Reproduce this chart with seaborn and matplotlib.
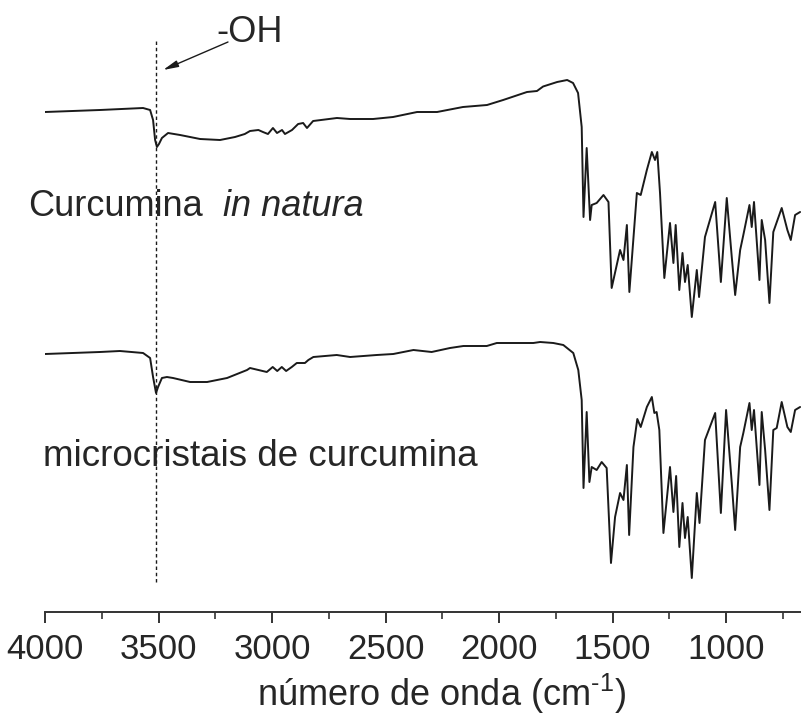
import numpy as np
import pandas as pd
import matplotlib
matplotlib.use("Agg")
import matplotlib.pyplot as plt
from matplotlib.ticker import MultipleLocator
import seaborn as sns

# Espectros FTIR (número de onda em cm-1, transmitância em u.a.)
wn_natura = [4000, 3758, 3568, 3537, 3524, 3515, 3507, 3498, 3485, 3458, 3405, 3317,
             3229, 3163, 3120, 3097, 3060, 3040, 3018, 2996, 2978, 2956, 2943, 2912,
             2885, 2863, 2846, 2819, 2714, 2656, 2555, 2467, 2361, 2273, 2159, 2053,
             1982, 1877, 1833, 1806, 1744, 1700, 1674, 1652, 1636, 1628, 1614, 1599,
             1592, 1570, 1540, 1518, 1504, 1467, 1452, 1437, 1426, 1393, 1376, 1349,
             1327, 1313, 1303, 1291, 1272, 1247, 1232, 1222, 1206, 1192, 1181, 1169,
             1151, 1129, 1119, 1093, 1048, 1023, 997, 975, 960, 938, 924, 897,
             887, 877, 853, 843, 828, 809, 792, 755, 730, 715, 696, 674]
t_natura = [87.2, 88.0, 88.8, 88.0, 84.0, 76.0, 73.2, 74.4, 76.8, 78.8, 78.0, 76.4,
            76.0, 77.2, 78.4, 79.6, 80.0, 79.2, 78.4, 80.8, 78.8, 80.0, 78.4, 80.0,
            82.4, 82.8, 80.8, 83.6, 84.8, 84.4, 84.4, 85.2, 87.2, 87.2, 89.2, 90.0,
            92.0, 95.2, 95.6, 97.4, 99.2, 100.0, 98.8, 94.8, 81.2, 45.2, 72.8, 44.0,
            50.0, 50.8, 54.0, 51.2, 16.8, 32.0, 28.0, 42.0, 15.2, 54.8, 54.0, 64.0,
            71.2, 68.0, 71.2, 54.8, 20.8, 42.8, 26.8, 42.0, 16.0, 30.8, 19.2, 26.0,
            5.2, 24.0, 13.2, 37.2, 51.2, 19.2, 52.8, 29.2, 14.0, 32.0, 38.0, 50.0,
            41.2, 51.2, 20.0, 44.0, 36.0, 10.8, 39.2, 48.8, 40.0, 36.0, 46.0, 47.2]

wn_micro = [4000, 3758, 3670, 3568, 3537, 3524, 3511, 3502, 3485, 3463, 3436, 3361,
            3286, 3198, 3110, 3097, 3023, 2997, 2977, 2957, 2938, 2913, 2891, 2855,
            2840, 2818, 2715, 2656, 2539, 2466, 2377, 2297, 2216, 2157, 2054, 2010,
            1922, 1849, 1819, 1761, 1717, 1673, 1651, 1636, 1628, 1614, 1602, 1592,
            1570, 1548, 1526, 1507, 1489, 1467, 1452, 1437, 1427, 1408, 1391, 1376,
            1349, 1327, 1316, 1306, 1294, 1276, 1247, 1232, 1220, 1206, 1192, 1181,
            1169, 1151, 1129, 1117, 1093, 1048, 1023, 1000, 975, 960, 938, 924,
            897, 887, 877, 853, 843, 828, 809, 792, 777, 755, 730, 715, 696, 674]
t_micro = [94.4, 95.2, 95.6, 94.8, 92.8, 85.2, 78.8, 81.2, 84.8, 85.2, 84.8, 83.2,
           83.2, 84.8, 88.0, 88.8, 87.2, 89.2, 87.6, 89.2, 87.6, 89.2, 90.8, 90.8,
           92.0, 93.2, 94.0, 93.2, 94.0, 94.4, 96.0, 95.2, 96.8, 97.6, 97.6, 98.8,
           98.8, 98.8, 99.2, 98.8, 98.0, 94.8, 88.0, 76.0, 40.8, 71.2, 43.2, 49.2,
           48.0, 51.2, 48.8, 10.8, 29.2, 38.8, 36.0, 50.0, 22.0, 57.2, 68.4, 65.2,
           73.2, 77.2, 70.8, 71.2, 64.0, 22.8, 49.2, 31.2, 45.6, 17.2, 34.8, 20.8,
           29.2, 4.8, 38.8, 26.8, 60.0, 70.8, 30.8, 72.0, 42.8, 24.0, 57.2, 62.8,
           74.8, 64.0, 72.0, 42.0, 71.2, 56.0, 32.0, 64.0, 64.8, 75.2, 65.2, 63.2, 72.0, 73.2]

oh_band = 3511          # banda -OH marcada com linha tracejada
offset_natura = 104     # deslocamento vertical do espectro superior

sns.set_style("white")
plt.rcParams["font.family"] = ["Liberation Sans", "DejaVu Sans"]
plt.rcParams["mathtext.default"] = "regular"

df = pd.concat([
    pd.DataFrame({"wn": wn_natura, "T": np.array(t_natura) + offset_natura, "amostra": "natura"}),
    pd.DataFrame({"wn": wn_micro, "T": t_micro, "amostra": "micro"}),
])

fig = plt.figure(figsize=(8.01, 7.17), dpi=100)
ax = fig.add_axes([45 / 801, 105 / 717, 1 - 45 / 801, 612 / 717])

sns.lineplot(data=df, x="wn", y="T", units="amostra", estimator=None, sort=False,
             color="#1a1a1a", linewidth=1.4, ax=ax, legend=False)

ax.set_xlim(4000, 670)
ax.set_ylim(-8.8, 236)

# linha tracejada na banda -OH e seta
ax.vlines(oh_band, 3.2, 220.4, colors="#1a1a1a", linewidth=1.0, linestyles=(0, (2.5, 2)))
ax.annotate("", xy=(3480, 208), xytext=(3194, 219.2),
            arrowprops=dict(arrowstyle="-|>,head_length=0.9,head_width=0.2",
                            color="#1a1a1a", lw=1.0, shrinkA=0, shrinkB=0))
fig.text(216 / 801, 1 - 42 / 717, "-OH", fontsize=26, ha="left", va="baseline")

fig.text(28 / 801, 1 - 216 / 717, "Curcumina", fontsize=26, ha="left", va="baseline")
fig.text(223 / 801, 1 - 216 / 717, "in natura", fontsize=26, style="italic",
         ha="left", va="baseline")
fig.text(43 / 801, 1 - 466 / 717, "microcristais de curcumina", fontsize=26.5,
         ha="left", va="baseline")

# eixos
for side in ["left", "right", "top"]:
    ax.spines[side].set_visible(False)
ax.spines["bottom"].set_linewidth(1.4)
ax.spines["bottom"].set_color("#333333")
ax.set_yticks([])
ax.set_ylabel("")
ax.xaxis.set_major_locator(MultipleLocator(500))
ax.xaxis.set_minor_locator(MultipleLocator(250))
ax.tick_params(axis="x", which="major", direction="out", length=8, width=1.4,
               color="#333333", labelsize=25, pad=7, bottom=True)
ax.tick_params(axis="x", which="minor", direction="out", length=5, width=1.2,
               color="#333333", bottom=True)
ax.set_xlabel("número de onda (cm$^{\u2010 1}$)", fontsize=26)
ax.xaxis.set_label_coords(0.524, -0.154)
ax.xaxis.label.set_verticalalignment("baseline")

fig.savefig("out.png", dpi=100)
